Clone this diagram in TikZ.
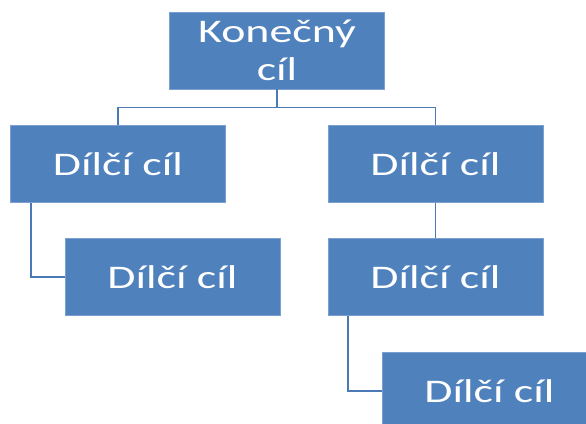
\documentclass[tikz,border=0pt]{standalone}
\usepackage{fontspec}
\setmainfont{Carlito}[FakeStretch=1.39]
\definecolor{boxblue}{HTML}{4F81BD}
\definecolor{boxedge}{HTML}{7A9FD0}
\definecolor{linkblue}{HTML}{4A7AB5}
\begin{document}
\begin{tikzpicture}[x=1pt,y=-1pt,
  goal/.style={draw=boxedge, line width=0.6pt, fill=boxblue, text=white,
    minimum width=215pt, minimum height=77pt, inner sep=0pt,
    font=\fontsize{33}{38}\selectfont, align=center},
  link/.style={draw=linkblue, line width=1.6pt}]
  \useasboundingbox (0,0) rectangle (586,423);
  \clip (0,0) rectangle (586,423);
  % boxes
  \node[goal] (top) at (277,50.5) {Konečný\\cíl};
  \node[goal] (left) at (118,164) {Dílčí cíl};
  \node[goal] (right) at (435.5,164) {Dílčí cíl};
  \node[goal] (lchild) at (172.5,277) {Dílčí cíl};
  \node[goal] (rchild) at (435.5,277) {Dílčí cíl};
  \node[goal] (rgrand) at (489.5,391) {Dílčí cíl};
  % connectors
  \draw[link] (top.south) -- ++(0,18) coordinate (fork);
  \draw[link] (fork) -| (left.north);
  \draw[link] (fork) -| (right.north);
  \draw[link] ([xshift=21pt]left.south west) |- (lchild.west);
  \draw[link] (right.south) -- (rchild.north);
  \draw[link] ([xshift=20pt]rchild.south west) |- (rgrand.west);
\end{tikzpicture}
\end{document}
